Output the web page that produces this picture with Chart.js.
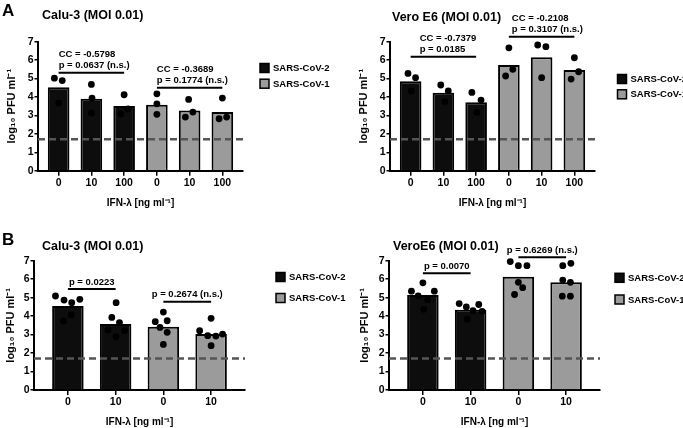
<!DOCTYPE html>
<html>
<head>
<meta charset="utf-8">
<script src="https://cdn.jsdelivr.net/npm/chart.js@4.4.1/dist/chart.umd.min.js"></script>
<style>
  body { margin: 0; background: #fff; width: 683px; height: 428px; position: relative; overflow: hidden; }
  canvas { position: absolute; }
</style>
</head>
<body>
<canvas id="aCalu" style="left:0;top:0"></canvas>
<canvas id="bCalu" style="left:0;top:215px"></canvas>
<canvas id="aVero" style="left:340px;top:0"></canvas>
<canvas id="bVero" style="left:340px;top:215px"></canvas>
<script>
// values (log10 PFU/ml)
const doses3 = ['0', '10', '100'];
const doses2 = ['0', '10'];
const detectionLimit = 1.7;
const yTicks = [0, 1, 2, 3, 4, 5, 6, 7];

// A - Calu-3
const aCaluCov2 = [4.53, 3.90, 3.51];
const aCaluCov1 = [3.58, 3.27, 3.18];
const aCaluCov2Pts = [[5.02, 4.89, 3.67], [4.68, 3.94, 3.13], [4.12, 3.09, 3.35]];
const aCaluCov1Pts = [[4.17, 3.63, 3.06], [3.87, 2.91, 3.18], [3.94, 2.82, 2.91]];
const aCaluStats = [
  { from: 0, to: 2, y: 5.31, text: ['CC = -0.5798', 'p = 0.0637 (n.s.)'] },
  { from: 3, to: 5, y: 4.50, text: ['CC = -0.3689', 'p = 0.1774 (n.s.)'] }
];

// A - Vero E6
const aVeroCov2 = [4.86, 4.23, 3.71];
const aVeroCov1 = [5.73, 6.15, 5.46];
const aVeroCov2Pts = [[5.28, 5.05, 4.33], [4.65, 4.33, 3.75], [4.25, 3.83, 3.16]];
const aVeroCov1Pts = [[6.67, 5.14, 5.50], [6.82, 6.73, 5.05], [6.13, 4.97, 5.37]];
const aVeroStats = [
  { from: 0, to: 2, y: 6.18, text: ['CC = -0.7379', 'p = 0.0185'] },
  { from: 3, to: 5, y: 7.27, text: ['CC = -0.2108', 'p = 0.3107 (n.s.)'] }
];

// B - Calu-3
const bCaluCov2 = [4.55, 3.57];
const bCaluCov1 = [3.43, 3.03];
const bCaluCov2Pts = [[5.09, 4.87, 4.73, 4.91, 4.06, 3.74], [4.73, 3.93, 3.65, 3.25, 3.21, 2.89]];
const bCaluCov1Pts = [[4.22, 3.70, 3.75, 3.39, 3.12, 2.47], [3.88, 3.21, 2.94, 2.92, 3.03, 2.40]];
const bCaluStats = [
  { from: 0, to: 1, y: 5.47, text: ['p = 0.0223'] },
  { from: 2, to: 3, y: 4.78, text: ['p = 0.2674 (n.s.)'] }
];

// B - VeroE6
const bVeroCov2 = [5.14, 4.35];
const bVeroCov1 = [6.13, 5.83];
const bVeroCov2Pts = [[5.35, 5.80, 5.35, 4.37, 5.10, 4.90], [4.68, 4.50, 4.63, 3.83, 4.30, 4.26]];
const bVeroCov1Pts = [[6.95, 6.73, 6.73, 5.83, 5.54, 5.17], [6.73, 6.86, 5.95, 5.83, 5.08, 5.08]];
const bVeroStats = [
  { from: 0, to: 1, y: 6.32, text: ['p = 0.0070'] },
  { from: 2, to: 3, y: 7.19, text: ['p = 0.6269 (n.s.)'] }
];

// horizontal spread of the dots inside each bar (in bar widths)
const spread3 = {
  aCalu: [[-0.13, 0.11, 0], [0, 0.02, 0], [0, -0.1, 0.12], [0, 0, 0], [-0.03, -0.13, 0.1], [0, -0.1, 0.13]],
  aVero: [[-0.08, 0.15, 0.02], [-0.08, 0.15, 0.05], [-0.13, 0.15, 0.02], [0, -0.1, 0.12], [-0.12, 0.13, 0], [0, -0.1, 0.13]]
};
const spread2 = {
  bCalu: [[-0.26, -0.08, 0.08, 0.25, 0.07, -0.09], [0.01, -0.08, 0.08, -0.16, 0.19, 0.01],
          [0, -0.17, 0.08, -0.07, 0.08, 0], [0, -0.24, -0.07, 0.1, 0.24, 0]],
  bVero: [[-0.24, 0, 0.24, 0.02, -0.1, 0.1], [-0.24, -0.09, 0.17, -0.07, 0.05, 0.24],
          [-0.17, 0, 0.18, 0, 0.09, -0.08], [-0.07, 0.1, -0.07, 0.09, -0.08, 0.09]]
};

const FONT = '"Liberation Sans", Arial, sans-serif';
const COV2 = '#0d0d0d';
const COV1 = '#9b9b9b';

// figure text: panel letter, title, brackets, legend
const figText = {
  id: 'figText',
  afterDraw(chart, args, o) {
    const ctx = chart.ctx;
    const xs = chart.scales.x, ys = chart.scales.y;
    ctx.save();
    ctx.fillStyle = '#000';
    ctx.textBaseline = 'alphabetic';
    if (o.letter) {
      ctx.font = 'bold 17px ' + FONT;
      ctx.textAlign = 'left';
      ctx.fillText(o.letter, o.letterAt[0], o.letterAt[1]);
    }
    ctx.font = 'bold 12.5px ' + FONT;
    ctx.textAlign = 'left';
    ctx.fillText(o.title, o.titleAt[0], o.titleAt[1]);

    // brackets
    ctx.strokeStyle = '#000';
    ctx.lineWidth = 2;
    ctx.font = 'bold 9.5px ' + FONT;
    ctx.textBaseline = 'middle';
    o.stats.forEach((s, k) => {
      const x1 = xs.getPixelForValue(s.from);
      const x2 = xs.getPixelForValue(s.to);
      const y = ys.getPixelForValue(s.y);
      ctx.beginPath();
      ctx.moveTo(x1, y);
      ctx.lineTo(x2, y);
      ctx.stroke();
      const n = s.text.length;
      s.text.forEach((t, j) => {
        const ty = y - 7 - (n - 1 - j) * 11;
        if (o.statAlign === 'center') {
          ctx.textAlign = 'center';
          ctx.fillText(t, (x1 + x2) / 2, ty);
        } else {
          ctx.textAlign = 'left';
          ctx.fillText(t, x1 + o.statDx[k], ty);
        }
      });
    });

    // legend
    ctx.textAlign = 'left';
    ctx.font = 'bold 9.5px ' + FONT;
    chart.data.datasets.filter(d => d.inLegend).forEach((d, i) => {
      const x = o.legendAt[0], y = o.legendAt[1] + i * o.legendStep;
      ctx.fillStyle = d.backgroundColor;
      ctx.fillRect(x, y, 9, 9);
      ctx.lineWidth = 1.5;
      ctx.strokeRect(x, y, 9, 9);
      ctx.fillStyle = '#000';
      ctx.fillText(d.label, x + 13, y + 5);
    });
    ctx.restore();
  }
};

function panel(id, labels, cov2, cov1, cov2Pts, cov1Pts, spread, stats, g) {
  const canvas = document.getElementById(id);
  canvas.width = g.w; canvas.height = g.h;
  canvas.style.width = g.w + 'px'; canvas.style.height = g.h + 'px';
  const ticks = labels.concat(labels);
  const n = ticks.length;
  const xMin = -g.gap, xMax = n - 1 + g.gap;
  const dots = cov2Pts.concat(cov1Pts).flatMap((vals, i) =>
    vals.map((v, k) => ({ x: i + spread[i][k], y: v })));

  new Chart(canvas, {
    type: 'bar',
    data: {
      datasets: [
        { type: 'scatter', label: 'replicates', data: dots, backgroundColor: '#000', borderColor: '#000',
          pointRadius: 3.4, borderWidth: 0, order: 0, clip: false },
        { type: 'line', label: 'detection limit', data: [{ x: xMin, y: detectionLimit }, { x: xMax, y: detectionLimit }],
          borderColor: '#555', borderWidth: 2.5, borderDash: [7, 4], pointRadius: 0, order: 1 },
        { label: 'SARS-CoV-2', inLegend: true, data: cov2.map((v, i) => ({ x: i, y: v })),
          backgroundColor: COV2, borderColor: '#000', borderWidth: 2, grouped: false,
          barPercentage: 0.66, categoryPercentage: 1, order: 2 },
        { label: 'SARS-CoV-1', inLegend: true, data: cov1.map((v, i) => ({ x: i + cov2.length, y: v })),
          backgroundColor: COV1, borderColor: '#000', borderWidth: 2, grouped: false,
          barPercentage: 0.66, categoryPercentage: 1, order: 2 }
      ]
    },
    options: {
      responsive: false,
      animation: false,
      events: [],
      layout: { padding: { left: 0, top: g.top, right: g.w - g.right, bottom: 0 } },
      plugins: {
        legend: { display: false },
        tooltip: { enabled: false },
        figText: { letter: g.letter, letterAt: g.letterAt, title: g.title, titleAt: g.titleAt,
                   stats: stats, statAlign: g.statAlign, statDx: g.statDx,
                   legendAt: g.legendAt, legendStep: g.legendStep }
      },
      scales: {
        x: {
          type: 'linear', min: xMin, max: xMax, offset: false,
          grid: { display: true, offset: false, drawOnChartArea: false, drawTicks: true, tickLength: 5, color: '#000', lineWidth: 1.5 },
          border: { display: true, color: '#000', width: 2 },
          ticks: { stepSize: 1, includeBounds: false, autoSkip: false, maxRotation: 0, padding: 1, color: '#000',
                   font: { family: FONT, size: 10.5, weight: 'bold' },
                   callback: v => ticks[Math.round(v)] ?? '' },
          title: { display: true, text: 'IFN-λ [ng ml⁻¹]', color: '#000',
                   font: { family: FONT, size: 10, weight: 'bold' }, padding: { top: 0, bottom: g.xTitlePad } },
          afterFit: s => { s.height = g.h - g.bottom; }
        },
        y: {
          min: 0, max: 7,
          afterBuildTicks: s => { s.ticks = yTicks.map(v => ({ value: v })); },
          grid: { display: true, drawOnChartArea: false, drawTicks: true, tickLength: 3.5, color: '#000', lineWidth: 1.5 },
          border: { display: true, color: '#000', width: 2 },
          ticks: { padding: 1, color: '#000', font: { family: FONT, size: 10.5, weight: 'bold' } },
          title: { display: true, text: 'log₁₀ PFU ml⁻¹', color: '#000',
                   font: { family: FONT, size: 11, weight: 'bold' }, padding: { top: g.yTitleX - 6.6, bottom: 0 } },
          afterFit: s => { s.width = g.left; }
        }
      }
    },
    plugins: [figText]
  });
}

panel('aCalu', doses3, aCaluCov2, aCaluCov1, aCaluCov2Pts, aCaluCov1Pts, spread3.aCalu, aCaluStats, {
  w: 340, h: 215, left: 38, right: 243, top: 41.7, bottom: 170.7, gap: 0.63, xTitlePad: 6, yTitleX: 12,
  letter: 'A', letterAt: [2, 16], title: 'Calu-3 (MOI 0.01)', titleAt: [42, 18.5],
  statAlign: 'left', statDx: [0, 0], legendAt: [260, 63.5], legendStep: 15.7
});
panel('aVero', doses3, aVeroCov2, aVeroCov1, aVeroCov2Pts, aVeroCov1Pts, spread3.aVero, aVeroStats, {
  w: 343, h: 215, left: 50, right: 255, top: 41.7, bottom: 170.7, gap: 0.63, xTitlePad: 6, yTitleX: 23.5,
  letter: '', letterAt: [0, 0], title: 'Vero E6 (MOI 0.01)', titleAt: [52, 21],
  statAlign: 'left', statDx: [9, 3], legendAt: [277.5, 74.5], legendStep: 15.3
});
panel('bCalu', doses2, bCaluCov2, bCaluCov1, bCaluCov2Pts, bCaluCov1Pts, spread2.bCalu, bCaluStats, {
  w: 360, h: 213, left: 34, right: 245, top: 45.7, bottom: 175, gap: 0.71, xTitlePad: 0, yTitleX: 10.5,
  letter: 'B', letterAt: [2, 30], title: 'Calu-3 (MOI 0.01)', titleAt: [42, 35],
  statAlign: 'center', statDx: [0, 0], legendAt: [276, 57.5], legendStep: 21
});
panel('bVero', doses2, bVeroCov2, bVeroCov1, bVeroCov2Pts, bVeroCov1Pts, spread2.bVero, bVeroStats, {
  w: 343, h: 213, left: 49, right: 260, top: 45.7, bottom: 175, gap: 0.71, xTitlePad: 0, yTitleX: 25,
  letter: '', letterAt: [0, 0], title: 'VeroE6 (MOI 0.01)', titleAt: [53, 35],
  statAlign: 'center', statDx: [0, 0], legendAt: [275, 58.3], legendStep: 21.7
});
</script>
</body>
</html>
